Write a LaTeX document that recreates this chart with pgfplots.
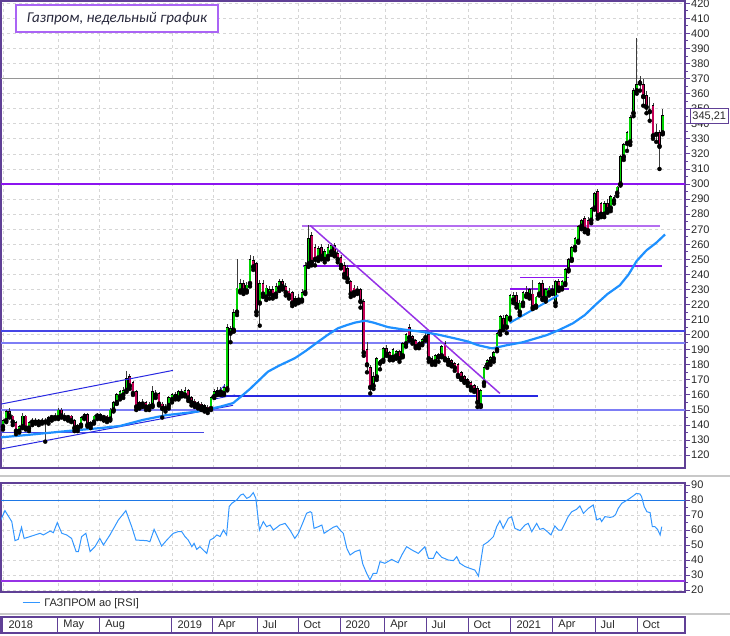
\documentclass[border=0pt]{standalone}
\usepackage{pgfplots}
\usepackage{pgfplotstable}
\usepackage{fontspec}
\pgfplotsset{compat=1.18}
\setmainfont{Liberation Sans}
\newfontfamily\titlefont{Carlito}
\definecolor{frame}{RGB}{96,64,150}
\definecolor{lab}{RGB}{40,40,40}
\definecolor{gridc}{RGB}{214,214,214}
\definecolor{sepc}{RGB}{200,200,200}
\definecolor{mac}{RGB}{30,144,255}
\definecolor{rsic}{RGB}{50,150,255}
\definecolor{rsi80}{RGB}{30,120,230}
\definecolor{rsilow}{RGB}{150,50,230}
\definecolor{vio}{RGB}{140,20,240}
\definecolor{violt}{RGB}{180,110,240}
\definecolor{trendv}{RGB}{150,50,230}
\definecolor{bluedk}{RGB}{40,40,225}
\definecolor{bluemd}{RGB}{70,70,230}
\definecolor{bluelt}{RGB}{125,125,245}
\definecolor{grayl}{RGB}{150,150,150}
\definecolor{upc}{RGB}{0,210,0}
\definecolor{dnc}{RGB}{195,0,85}
\definecolor{wick}{RGB}{60,60,60}
\definecolor{titlec}{RGB}{170,100,245}
\definecolor{titletext}{RGB}{40,40,60}

\pgfplotstableread{
w o h l c
0 139 144 137 143
1 143 150 142 149
2 149 151 145 146
3 146 147 140 142
4 142 143 134 136
5 136 140 135 139
6 139 148 138 146
7 146 147 137 138
8 138 143 136 142
9 142 145 140 143
10 143 145 141 142
11 142 144 140 143
12 143 145 141 142
13 142 145 129 143
14 143 146 141 145
15 145 147 143 146
16 146 148 144 145
17 145 151 144 150
18 150 151 145 146
19 146 148 144 145
20 145 147 143 146
21 146 147 142 143
22 143 144 136 138
23 138 141 136 140
24 140 146 139 145
25 145 148 144 147
26 147 148 139 140
27 140 143 138 142
28 142 147 141 146
29 146 148 144 147
30 147 148 144 145
31 145 147 143 146
32 146 147 142 144
33 144 151 143 150
34 150 156 149 155
35 155 161 154 160
36 159 163 157 162
37 160 165 158 163
38 163 176 162 171
39 172 174 164 166
40 168 169 160 161
41 162 163 150 152
42 153 156 151 155
43 155 157 152 154
44 155 156 150 152
45 152 155 150 154
46 153 166 152 162
47 161 163 158 160
48 161 162 153 154
49 154 155 145 151
50 151 154 149 152
51 153 159 151 158
52 157 161 155 160
53 160 162 157 159
54 158 163 157 162
55 162 164 159 161
56 160 165 159 163
57 163 164 156 158
58 158 159 153 155
59 156 157 152 154
60 155 156 151 153
61 154 155 150 152
62 153 154 149 151
63 152 153 148 150
64 151 159 150 158
65 159 164 158 162
66 161 165 160 163
67 162 165 160 163
68 161 167 160 165
69 164 207 163 205
70 201 206 195 204
71 203 217 202 215
72 215 250 213 231
73 229 237 228 234
74 234 236 227 229
75 229 235 228 233
76 234 253 232 250
77 249 252 243 245
78 247 248 213 215
79 221 236 206 234
80 234 236 225 227
81 225 233 223 231
82 227 232 224 230
83 230 232 224 226
84 227 234 225 232
85 231 237 229 235
86 235 237 230 232
87 232 234 226 228
88 229 231 224 226
89 228 229 219 221
90 222 226 220 224
91 224 227 221 223
92 223 230 222 228
93 228 248 227 246
94 247 273 245 264
95 266 268 246 248
96 258 260 246 250
97 251 259 249 257
98 258 260 250 252
99 250 257 248 255
100 252 260 250 258
101 255 261 253 259
102 259 261 252 254
103 254 256 248 250
104 251 253 244 246
105 246 248 238 240
106 244 246 235 237
107 235 236 225 227
108 231 233 226 228
109 229 232 227 230
110 230 231 218 222
111 222 224 186 188
112 190 195 175 180
113 178 180 161 165
114 166 175 164 172
115 172 185 170 184
116 181 184 177 183
117 183 192 182 191
118 191 193 186 187
119 188 189 183 185
120 185 191 183 190
121 186 190 184 189
122 189 190 182 184
123 186 195 185 194
124 194 201 192 200
125 205 207 196 198
126 199 200 194 196
127 196 197 191 192
128 193 196 191 195
129 194 198 193 197
130 198 201 196 199
131 200 202 182 184
132 184 186 180 182
133 182 187 180 186
134 185 188 182 187
135 186 193 185 192
136 194 196 183 184
137 184 186 180 182
138 183 184 179 180
139 181 182 176 178
140 180 181 172 173
141 175 176 170 171
142 172 173 168 169
143 170 171 166 168
144 168 169 163 165
145 166 167 162 163
146 164 166 152 155
147 153 164 152 163
148 168 180 166 178
149 180 184 178 183
150 182 186 180 185
151 184 189 182 188
152 190 202 189 201
153 202 213 200 212
154 211 213 203 205
155 205 214 201 213
156 211 227 210 226
157 223 228 221 226
158 226 228 218 220
159 215 223 213 221
160 221 229 219 228
161 228 232 225 226
162 226 231 224 230
163 227 236 217 218
164 219 226 218 225
165 227 235 226 234
166 234 236 223 224
167 224 231 222 230
168 228 232 226 231
169 230 233 227 229
170 221 236 219 235
171 235 237 229 231
172 231 236 230 235
173 234 244 233 243
174 243 251 242 250
175 250 259 249 258
176 258 265 256 264
177 262 273 261 272
178 272 277 270 276
179 277 279 268 270
180 276 278 267 269
181 276 285 274 284
182 284 295 283 294
183 295 297 277 279
184 287 288 278 280
185 280 289 278 287
186 287 290 281 283
187 284 293 282 292
188 289 293 287 291
189 294 299 292 298
190 300 319 299 318
191 318 327 316 326
192 327 335 322 334
193 328 346 326 344
194 347 364 345 362
195 362 397 360 366
196 369 372 362 367
197 366 370 352 358
198 359 362 347 351
199 349 358 342 348
200 352 354 330 332
201 334 340 328 333
202 334 336 310 325
203 334 350 333 345.21
}\candles

\pgfplotstableread{
w v
-0.7 131.8
0.1 132
7.3 133.4
19.6 136
29.9 138
36 139.4
43 143.4
50 146.5
59.6 148.9
66.8 152.2
70.8 154.6
73 158.5
76 164
81.5 175.4
85 179.5
89.8 184.4
93 189
96.9 195.2
100 200
103.1 204.3
106 206.5
108.3 208
111.4 209.3
114 208
118.5 205
123 203.5
128.9 201.9
134 200
139.1 197.5
143 195.5
146.2 193
150.5 190.9
152.9 192
155 193
160 195
167.3 199.7
171 203
175.4 207.6
179 213
182.7 220.6
186 227
189.8 232.8
192.5 240
195 249
198 256
201 261
203.7 266.5
}\mavg

\pgfplotstableread{
w r
-0.9 65.6
0.6 72.9
2.7 65.6
3.7 52.9
4.7 53.8
5.7 61.8
6.5 54.4
8.3 55.6
11.4 57.8
12.4 56.7
14.5 59.3
15.5 58.2
16.7 64.9
18.1 57.8
19.6 56.7
21.1 54.4
22.5 45.6
23.2 45.6
24.2 55.6
25.5 57.8
26.8 45.6
28.3 48.9
29.8 54.4
30.9 50.0
32.9 56.7
35.5 66.7
37.8 72.9
39.6 62.2
40.9 53.3
44.2 52.9
45.2 52.2
46.5 60.4
47.3 56.7
48.8 49.3
50.4 53.3
51.9 56.7
52.4 57.8
53.9 58.9
55.0 58.9
56.0 55.6
57.0 53.3
58.1 48.9
58.8 51.1
59.6 47.1
60.6 48.9
61.6 46.7
62.7 44.4
63.7 53.3
64.7 54.4
65.8 56.7
66.8 55.6
67.8 60.0
68.8 56.7
69.6 75.6
70.4 77.8
71.9 80.0
73.1 83.3
73.9 84.0
75.0 81.1
76.0 82.2
77.0 84.9
77.8 81.1
78.9 60.0
80.1 65.6
81.1 62.2
82.2 63.3
83.2 60.0
85.2 63.3
86.8 64.4
88.3 60.0
89.8 54.4
90.9 57.8
92.4 65.6
93.4 71.1
94.5 72.2
95.0 71.6
95.7 61.1
97.0 62.2
98.1 63.3
98.8 57.8
100.1 59.6
101.6 61.8
102.7 62.7
103.7 60.0
104.7 57.8
105.8 47.8
106.8 43.3
108.3 45.6
109.8 46.7
110.7 37.3
111.9 31.1
112.9 26.7
113.9 31.1
115.0 31.1
116.0 38.9
117.5 37.8
119.6 40.4
121.6 38.2
122.7 43.3
124.2 48.9
125.8 46.7
127.8 44.4
129.8 48.9
130.9 41.1
132.4 41.1
133.4 45.6
135.0 41.8
137.0 40.0
138.6 39.6
139.6 42.2
140.6 37.8
142.2 35.6
143.7 34.4
145.2 33.3
146.3 29.3
147.8 50.0
149.3 52.2
150.9 55.6
151.9 62.2
152.9 66.2
153.9 61.1
155.5 67.8
156.5 68.9
157.5 61.1
159.1 59.6
160.6 63.3
161.6 64.4
162.7 58.9
164.2 64.4
165.2 60.4
166.2 61.1
167.3 59.3
168.6 56.7
169.8 62.7
170.9 60.0
171.9 60.0
172.9 64.4
173.9 68.9
175.0 72.2
176.5 73.8
177.5 76.0
178.6 71.1
180.1 74.4
181.6 76.7
182.7 66.7
183.7 67.8
184.2 65.6
185.2 68.9
186.8 68.4
187.8 68.9
188.5 70.4
189.3 74.4
190.4 77.8
192.4 80.4
193.9 82.7
194.9 84.4
196.0 84.0
196.5 82.2
197.3 75.6
198.1 72.2
199.1 71.6
199.8 62.2
200.6 62.2
201.4 60.4
202.2 56.7
202.7 62.2
}\rsi

\pgfplotsset{
  panel/.style={
    scale only axis, width=684pt,
    xmin=-0.615, xmax=209.85,
    axis line style={draw=frame, line width=1.1pt},
    xtick={0,16.9,29.8,52,64.6,78.2,90.8,103.7,117.5,130.2,143.1,156.3,169.2,182.2,195.1},
    xticklabels={}, xtick style={draw=none},
    xmajorgrids=true, ymajorgrids=true,
    major grid style={draw=gridc, dash pattern=on 3pt off 3pt, line width=0.7pt},
    ytick pos=right, yticklabel pos=right, tick align=outside,
    major tick length=5pt, minor tick length=3pt,
    ytick style={draw=frame, line width=0.9pt},
    yticklabel style={font=\fontsize{11}{11}\selectfont, text=lab, inner sep=1pt},
    /pgf/number format/assume math mode=true,
  },
  wickbar/.style={only marks, mark=none, forget plot,
    error bars/.cd, y dir=plus, y explicit, error mark=none,
    error bar style={draw=wick, line width=0.9pt}},
  bodybar/.style 2 args={only marks, mark=none, forget plot,
    error bars/.cd, y dir=plus, y explicit, error mark=none,
    error bar style={draw=#1, line width=#2}},
}

\begin{document}
\begin{tikzpicture}
\useasboundingbox (0,0) rectangle (730pt,635pt);

% separators
\draw[sepc, line width=2pt] (0,159.5pt) -- (730pt,159.5pt);
\draw[sepc, line width=1.5pt] (0,21pt) -- (730pt,21pt);

% ---------------- main price panel ----------------
\begin{axis}[panel, height=467pt, at={(1pt,167pt)}, anchor=south west,
  ymin=111.5, ymax=421.5, ytick={120,130,...,420}, minor y tick num=1]
% horizontal levels
\addplot[grayl, line width=1.5pt, forget plot] coordinates {(-1,370) (211,370)};
\addplot[vio, line width=1.8pt, forget plot] coordinates {(-1,300) (211,300)};
\addplot[violt, line width=1.5pt, forget plot] coordinates {(92,272) (202.2,272)};
\addplot[vio, line width=1.8pt, forget plot] coordinates {(92.3,245.5) (202.8,245.5)};
\addplot[vio, line width=1.8pt, forget plot] coordinates {(159.1,238) (174.2,238)};
\addplot[vio, line width=1.8pt, forget plot] coordinates {(156,230.1) (174.2,230.1)};
\addplot[bluemd, line width=1.2pt, forget plot] coordinates {(-1,202.5) (211,202.5)};
\addplot[bluelt, line width=1.3pt, forget plot] coordinates {(-1,194.5) (211,194.5)};
\addplot[bluedk, line width=2pt, forget plot] coordinates {(64.6,159.5) (164.6,159.5)};
\addplot[bluelt, line width=2pt, forget plot] coordinates {(-1,150) (211,150)};
\addplot[bluemd, line width=1pt, forget plot] coordinates {(-1,135) (62,135)};
% candles
\addplot[wickbar] table[x=w, y=l, y error expr=\thisrow{h}-\thisrow{l}] {\candles};
\addplot[bodybar={black}{2.8pt}] table[x=w,
  y expr={min(\thisrow{o},\thisrow{c})-0.3},
  y error expr={abs(\thisrow{c}-\thisrow{o})+0.6}] {\candles};
\addplot[bodybar={upc}{1.9pt}] table[x=w,
  y expr={ifthenelse(\thisrow{c}>=\thisrow{o}, \thisrow{o}+0.3, 0)},
  y error expr={ifthenelse(\thisrow{c}>=\thisrow{o}, max(\thisrow{c}-\thisrow{o}-0.6,0), 0)}] {\candles};
\addplot[bodybar={dnc}{1.9pt}] table[x=w,
  y expr={ifthenelse(\thisrow{c}<\thisrow{o}, \thisrow{c}+0.3, 0)},
  y error expr={ifthenelse(\thisrow{c}<\thisrow{o}, max(\thisrow{o}-\thisrow{c}-0.6,0), 0)}] {\candles};
% trend lines
\addplot[bluedk, line width=1pt, forget plot] coordinates {(-0.92,153.8) (52.3,176.3)};
\addplot[bluedk, line width=1pt, forget plot] coordinates {(-0.92,124.0) (70.8,153.1)};
\addplot[bluedk, line width=0.8pt, forget plot] coordinates {(64.6,158.8) (68.3,166.6)};
\addplot[bluedk, line width=0.8pt, forget plot] coordinates {(64.6,157.1) (71.4,160.0)};
\addplot[trendv, line width=1.5pt, forget plot] coordinates {(94.5,272.5) (152.9,161)};
\addplot[mac, line width=2pt, forget plot] coordinates {(155.9,207.8) (170.9,226.2)};
% moving average
\addplot[mac, line width=2.2pt, forget plot] table[x=w, y=v] {\mavg};
\coordinate (lastp) at (axis cs:209.85,345.21);
\end{axis}

\node[draw=frame, line width=0.8pt, fill=white, anchor=west, inner xsep=2.5pt, inner ysep=1pt,
  minimum height=15pt, font=\fontsize{11}{11}\selectfont, text=lab] at ([xshift=4.5pt]lastp) {345,21};

\node[draw=titlec, line width=1.3pt, fill=white, minimum width=202pt, minimum height=27pt,
  inner sep=0pt, font=\titlefont\itshape\fontsize{15}{15}\selectfont, text=titletext]
  at (117pt,616.5pt) {Газпром, недельный график};

% ---------------- RSI panel ----------------
\begin{axis}[panel, height=109pt, at={(1pt,43pt)}, anchor=south west,
  ymin=18.67, ymax=91.33, ytick={20,30,...,90}, minor y tick num=1,
  legend style={at={(0,0)}, anchor=north west, xshift=19pt, yshift=-2pt,
    draw=none, fill=none, font=\fontsize{11}{12}\selectfont, text=lab, inner sep=2pt,
    nodes={inner xsep=4pt}},
  legend cell align=left]
\addplot[rsi80, line width=1pt, forget plot] coordinates {(-1,80) (211,80)};
\addplot[rsilow, line width=1.5pt, forget plot] coordinates {(-1,26) (211,26)};
\addplot[rsic, line width=1pt] table[x=w, y=r] {\rsi};
\addlegendentry{ГАЗПРОМ ао [RSI]}
\end{axis}

% ---------------- date strip ----------------
\begin{axis}[scale only axis, width=684pt, height=16pt, at={(1pt,2pt)}, anchor=south west,
  xmin=-0.615, xmax=209.85, ymin=0, ymax=1, ytick=\empty,
  xtick={0,16.9,29.8,52,64.6,78.2,90.8,103.7,117.5,130.2,143.1,156.3,169.2,182.2,195.1},
  xticklabels={2018,May,Aug,2019,Apr,Jul,Oct,2020,Apr,Jul,Oct,2021,Apr,Jul,Oct},
  xtick style={draw=none}, xmajorgrids=true,
  major grid style={draw=frame, line width=1pt, solid},
  axis line style={draw=frame, line width=1.1pt},
  xticklabel style={anchor=west, yshift=8pt, xshift=2pt, font=\fontsize{11}{11}\selectfont, text=lab}]
\addplot[draw=none, forget plot] coordinates {(0,0.5) (1,0.5)};
\end{axis}
\end{tikzpicture}
\end{document}
